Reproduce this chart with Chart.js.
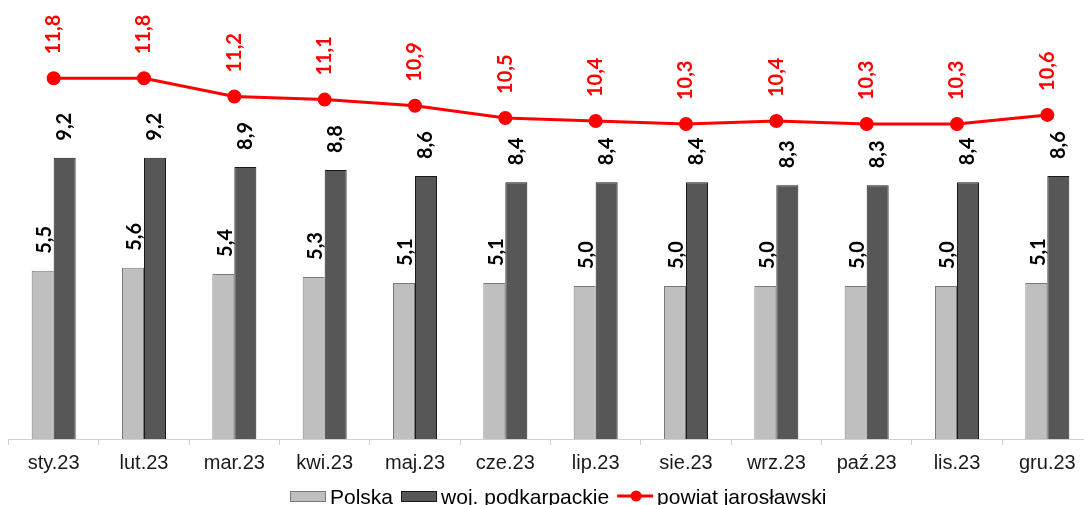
<!DOCTYPE html>
<html>
<head>
<meta charset="utf-8">
<script src="https://cdn.jsdelivr.net/npm/chart.js@4"></script>
<style>
    html, body { margin: 0; padding: 0; background: #fff; overflow: hidden; }
    #unemploymentChart { position: absolute; left: 0; top: 0; }
</style>
</head>
<body>
<canvas id="unemploymentChart" width="1101" height="505"></canvas>
<script>
// months
const months = ['sty.23', 'lut.23', 'mar.23', 'kwi.23', 'maj.23', 'cze.23',
                'lip.23', 'sie.23', 'wrz.23', 'paź.23', 'lis.23', 'gru.23'];

// unemployment rate, %
const polska = [5.5, 5.6, 5.4, 5.3, 5.1, 5.1, 5.0, 5.0, 5.0, 5.0, 5.0, 5.1];
const podkarpackie = [9.2, 9.2, 8.9, 8.8, 8.6, 8.4, 8.4, 8.4, 8.3, 8.3, 8.4, 8.6];
const jaroslawski = [11.8, 11.8, 11.2, 11.1, 10.9, 10.5, 10.4, 10.3, 10.4, 10.3, 10.3, 10.6];

const fmt = v => v.toFixed(1).replace('.', ',');

// rotated value labels above bars and points
const valueLabels = {
    id: 'valueLabels',
    afterDatasetsDraw(chart) {
        const ctx = chart.ctx;
        chart.data.datasets.forEach((ds, i) => {
            const meta = chart.getDatasetMeta(i);
            const isLine = ds.type === 'line';
            ctx.save();
            ctx.font = 'bold 20px Lato';
            ctx.fillStyle = isLine ? '#ff0000' : '#000';
            ctx.textAlign = 'left';
            ctx.textBaseline = 'middle';
            meta.data.forEach((el, j) => {
                const gap = isLine ? 24 : 17;
                ctx.save();
                ctx.translate(el.x + (i === 0 ? 2 : 0), el.y - gap);
                ctx.rotate(-Math.PI / 2);
                ctx.fillText(fmt(ds.data[j]), 0, 0);
                ctx.restore();
            });
            ctx.restore();
        });
    }
};

// legend at the bottom, drawn by hand to match the original
const bottomLegend = {
    id: 'bottomLegend',
    afterDraw(chart) {
        const ctx = chart.ctx;
        const y = 496;
        let x = 290;
        ctx.save();
        ctx.font = '21px "Liberation Sans"';
        ctx.textBaseline = 'alphabetic';
        chart.data.datasets.forEach(ds => {
            if (ds.type === 'line') {
                ctx.strokeStyle = ds.borderColor;
                ctx.lineWidth = 3;
                ctx.beginPath();
                ctx.moveTo(x, y);
                ctx.lineTo(x + 36, y);
                ctx.stroke();
                ctx.fillStyle = ds.pointBackgroundColor;
                ctx.beginPath();
                ctx.arc(x + 19, y, 5.5, 0, Math.PI * 2);
                ctx.fill();
            } else {
                ctx.fillStyle = ds.backgroundColor;
                ctx.fillRect(x, y - 5, 36, 11);
                ctx.strokeStyle = ds.borderColor;
                ctx.lineWidth = 1;
                ctx.strokeRect(x + 0.5, y - 4.5, 35, 10);
            }
            x += 40;
            ctx.fillStyle = '#000';
            ctx.fillText(ds.label, x, y + 7.5);
            x += ctx.measureText(ds.label).width + 8;
        });
        ctx.restore();
    }
};

const ctx = document.getElementById('unemploymentChart').getContext('2d');
const unemploymentChart = new Chart(ctx, {
    type: 'bar',
    data: {
        labels: months,
        datasets: [{
            label: 'Polska',
            data: polska,
            backgroundColor: '#bfbfbf',
            borderColor: '#7a7a7a',
            borderWidth: 1,
            order: 2
        }, {
            label: 'woj. podkarpackie',
            data: podkarpackie,
            backgroundColor: '#575757',
            borderColor: '#1a1a1a',
            borderWidth: 1,
            order: 2
        }, {
            type: 'line',
            label: 'powiat jarosławski',
            data: jaroslawski,
            borderColor: '#ff0000',
            backgroundColor: '#ff0000',
            pointBackgroundColor: '#ff0000',
            pointBorderColor: '#ff0000',
            borderWidth: 3,
            pointRadius: 5.5,
            tension: 0,
            fill: false,
            order: 1
        }]
    },
    options: {
        responsive: false,
        animation: false,
        datasets: {
            bar: { barPercentage: 1, categoryPercentage: 0.487 }
        },
        layout: { padding: { left: 8, right: 1, top: 0, bottom: 24 } },
        plugins: {
            legend: { display: false },
            tooltip: { enabled: false }
        },
        scales: {
            x: {
                grid: {
                    offset: true,
                    drawOnChartArea: false,
                    tickLength: 6,
                    color: '#d0d0d0'
                },
                border: { color: '#d0d0d0', width: 1 },
                ticks: {
                    color: '#1a1a1a',
                    padding: 6,
                    font: { family: 'Liberation Sans', size: 20 }
                }
            },
            y: {
                display: false,
                min: 0,
                max: 14.08
            }
        }
    },
    plugins: [valueLabels, bottomLegend]
});
</script>
</body>
</html>
